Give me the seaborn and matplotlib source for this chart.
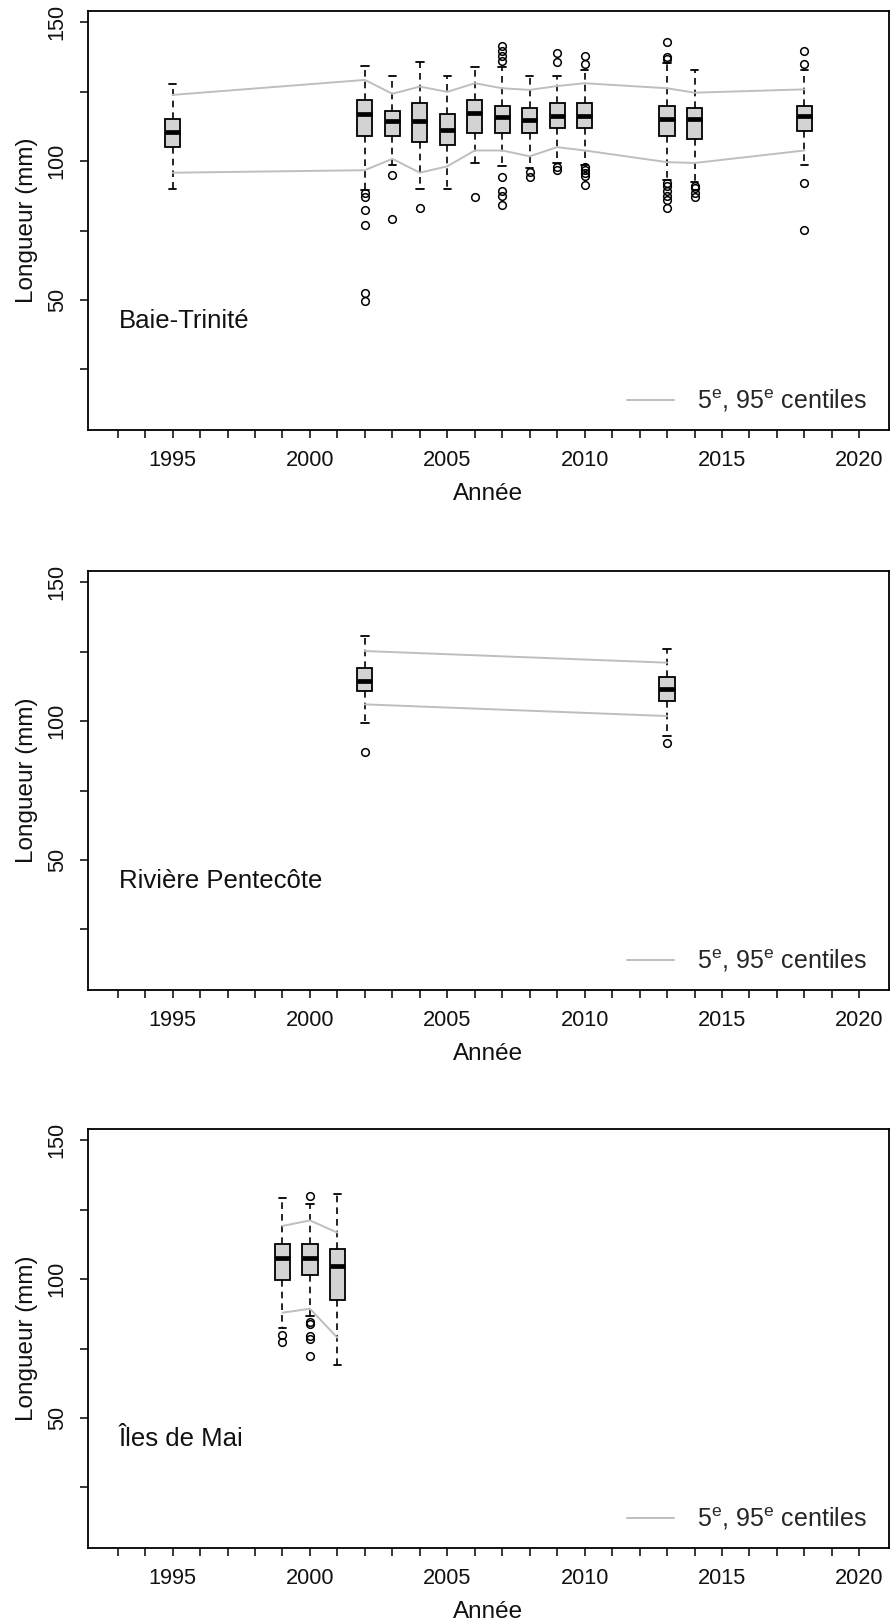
import numpy as np
import pandas as pd
import matplotlib
matplotlib.use("Agg")
import matplotlib.pyplot as plt
import seaborn as sns
from matplotlib.ticker import FixedLocator, FixedFormatter

# ---------------- data ----------------
# Baie-Trinité
bt_years   = [1995, 2002, 2003, 2004, 2005, 2006, 2007, 2008, 2009, 2010, 2013, 2014, 2018]
bt_whislo  = [90.1, 89.7, 98.5, 90.1, 90.1, 99.3, 98.1, 97.5, 99.3, 98.7, 93.3, 92.4, 98.7]
bt_q1      = [104.9, 108.9, 109.0, 106.8, 105.9, 110.1, 110.1, 110.1, 111.8, 111.8, 108.9, 107.9, 110.9]
bt_median  = [110.3, 117.1, 114.4, 114.4, 111.3, 117.2, 116.0, 114.6, 116.3, 116.3, 115.2, 115.2, 116.3]
bt_q3      = [115.2, 122.0, 118.0, 120.8, 117.0, 122.0, 119.9, 119.0, 120.8, 120.8, 119.9, 119.0, 119.9]
bt_whishi  = [127.8, 134.3, 130.6, 135.8, 130.6, 134.0, 134.0, 130.6, 130.6, 132.8, 135.2, 132.8, 132.8]
bt_outliers = [
    [],
    [88.5, 87.0, 82.2, 77.0, 52.4, 49.6],
    [95.0, 79.0],
    [83.0],
    [],
    [87.1],
    [94.3, 89.1, 87.3, 84.3, 136.1, 137.8, 139.7, 141.5],
    [96.1, 94.2],
    [97.8, 96.9, 135.8, 139.0],
    [97.9, 96.9, 95.7, 94.5, 91.2, 134.9, 137.8],
    [92.0, 90.9, 89.1, 87.3, 86.1, 83.1, 136.6, 137.6, 142.7],
    [91.0, 90.3, 88.5, 87.1],
    [92.1, 75.1, 134.9, 139.7],
]
bt_p05 = [95.8, 96.7, 100.8, 95.8, 98.1, 103.8, 103.8, 101.7, 105.0, 103.8, 99.6, 99.3, 103.8]
bt_p95 = [123.8, 129.2, 124.2, 126.8, 124.9, 128.0, 126.2, 125.6, 127.0, 128.0, 126.2, 124.6, 125.8]

# Rivière Pentecôte
rp_years   = [2002, 2013]
rp_whislo  = [99.2, 94.6]
rp_q1      = [110.9, 107.3]
rp_median  = [114.4, 111.4]
rp_q3      = [119.0, 115.9]
rp_whishi  = [130.5, 125.8]
rp_outliers = [[89.0], [92.0]]
rp_p05 = [106.0, 101.8]
rp_p95 = [125.2, 121.0]

# Îles de Mai
im_years   = [1999, 2000, 2001]
im_whislo  = [82.5, 86.7, 69.0]
im_q1      = [99.5, 101.4, 92.4]
im_median  = [107.7, 107.7, 104.7]
im_q3      = [112.5, 112.5, 110.9]
im_whishi  = [129.2, 127.0, 130.5]
im_outliers = [[79.8, 77.5], [84.6, 83.7, 79.5, 78.3, 72.3, 129.9], []]
im_p05 = [87.9, 89.3, 78.9]
im_p95 = [119.1, 121.1, 116.7]

site_names = ["Baie-Trinité", "Rivière Pentecôte", "Îles de Mai"]

x_ticks = list(range(1993, 2021))
x_ticklabels = [str(y) if y % 5 == 0 else "" for y in x_ticks]
y_ticks = [25, 50, 75, 100, 125, 150]
y_ticklabels = ["", "50", "", "100", "", "150"]

x_label = "Année"
y_label = "Longueur (mm)"
legend_label = r"5$^{\mathrm{e}}$, 95$^{\mathrm{e}}$ centiles"


def sample_from_summary(years, whislo, q1, med, q3, whishi, outliers, k=60):
    """Rebuild a sample whose box-plot statistics equal the read summary values."""
    rows = []
    for i, yr in enumerate(years):
        vals = ([whislo[i]] + [q1[i]] * k + [med[i]] * k + [q3[i]] * k
                + [whishi[i]] + list(outliers[i]))
        rows += [(yr, v) for v in vals]
    return pd.DataFrame(rows, columns=["annee", "longueur"])


sites = [
    (bt_years, bt_whislo, bt_q1, bt_median, bt_q3, bt_whishi, bt_outliers, bt_p05, bt_p95),
    (rp_years, rp_whislo, rp_q1, rp_median, rp_q3, rp_whishi, rp_outliers, rp_p05, rp_p95),
    (im_years, im_whislo, im_q1, im_median, im_q3, im_whishi, im_outliers, im_p05, im_p95),
]

# ---------------- style ----------------
sns.set_theme(style="ticks")
plt.rcParams["font.family"] = ["Liberation Sans", "DejaVu Sans"]
plt.rcParams["mathtext.fontset"] = "custom"
plt.rcParams["mathtext.rm"] = "Liberation Sans"
plt.rcParams["mathtext.it"] = "Liberation Sans:italic"
plt.rcParams["mathtext.bf"] = "Liberation Sans:bold"

W, H = 891, 1623
fig = plt.figure(figsize=(W / 100, H / 100), dpi=100)

left = 88 / W
width = (889 - 88) / W
height = 419 / H
bottoms_px = [430, 990, 1548]

box_w_years = 0.55
pct_color = "#BEBEBE"
box_fill = "#D3D3D3"
txt_color = "#111111"

for idx, (site, bpx) in enumerate(zip(sites, bottoms_px)):
    years, wlo, q1, med, q3, whi, outl, p05, p95 = site
    ax = fig.add_axes([left, 1 - bpx / H, width, height])
    df = sample_from_summary(years, wlo, q1, med, q3, whi, outl)
    min_gap = np.min(np.diff(years)) if len(years) > 1 else 1
    sns.boxplot(
        data=df, x="annee", y="longueur", native_scale=True, ax=ax,
        width=box_w_years / min_gap, color=box_fill, saturation=1,
        linecolor="black", whis=1.5,
        boxprops=dict(linewidth=1.3),
        medianprops=dict(linewidth=3.4, color="black"),
        whiskerprops=dict(linewidth=1.2, linestyle=(0, (4, 3)), color="black"),
        capprops=dict(linewidth=1.3, color="black"),
        flierprops=dict(marker="o", markersize=5.5, markerfacecolor="none",
                        markeredgecolor="black", markeredgewidth=1.1),
    )
    sns.lineplot(x=years, y=p95, color=pct_color, linewidth=1.4, ax=ax,
                 label=legend_label, zorder=3)
    sns.lineplot(x=years, y=p05, color=pct_color, linewidth=1.4, ax=ax, zorder=3)

    ax.set_xlim(1993 - 1.08, 2020 + 1.08)
    ax.set_ylim(3.2, 154.0)
    ax.xaxis.set_major_locator(FixedLocator(x_ticks))
    ax.xaxis.set_major_formatter(FixedFormatter(x_ticklabels))
    ax.yaxis.set_major_locator(FixedLocator(y_ticks))
    ax.yaxis.set_major_formatter(FixedFormatter(y_ticklabels))
    ax.tick_params(axis="both", direction="out", length=5.5, width=1.1,
                   color="black", labelsize=15.7, labelcolor=txt_color)
    ax.tick_params(axis="x", pad=9)
    ax.tick_params(axis="y", pad=9)
    for lab in ax.get_yticklabels():
        lab.set_rotation(90)
        lab.set_verticalalignment("center")
    for sp in ax.spines.values():
        sp.set_visible(True)
        sp.set_linewidth(1.3)
        sp.set_color("black")

    ax.set_xlabel(x_label, fontsize=17.5, color=txt_color)
    ax.set_ylabel(y_label, fontsize=17.5, color=txt_color)
    ax.xaxis.set_label_coords(0.5, -70 / 419)
    ax.xaxis.label.set_verticalalignment("baseline")
    ax.yaxis.set_label_coords(-61 / 801, 0.5)
    ax.yaxis.label.set_verticalalignment("center")

    ax.text(1993.05, 39.8, site_names[idx], ha="left", va="baseline",
            fontsize=18.5, color=txt_color)

    ax.legend(loc="lower right", frameon=False, fontsize=18,
              handlelength=1.9, handletextpad=0.9, borderaxespad=0.5,
              bbox_to_anchor=(1.0, -7 / 419))

fig.savefig("out.png", dpi=100)
